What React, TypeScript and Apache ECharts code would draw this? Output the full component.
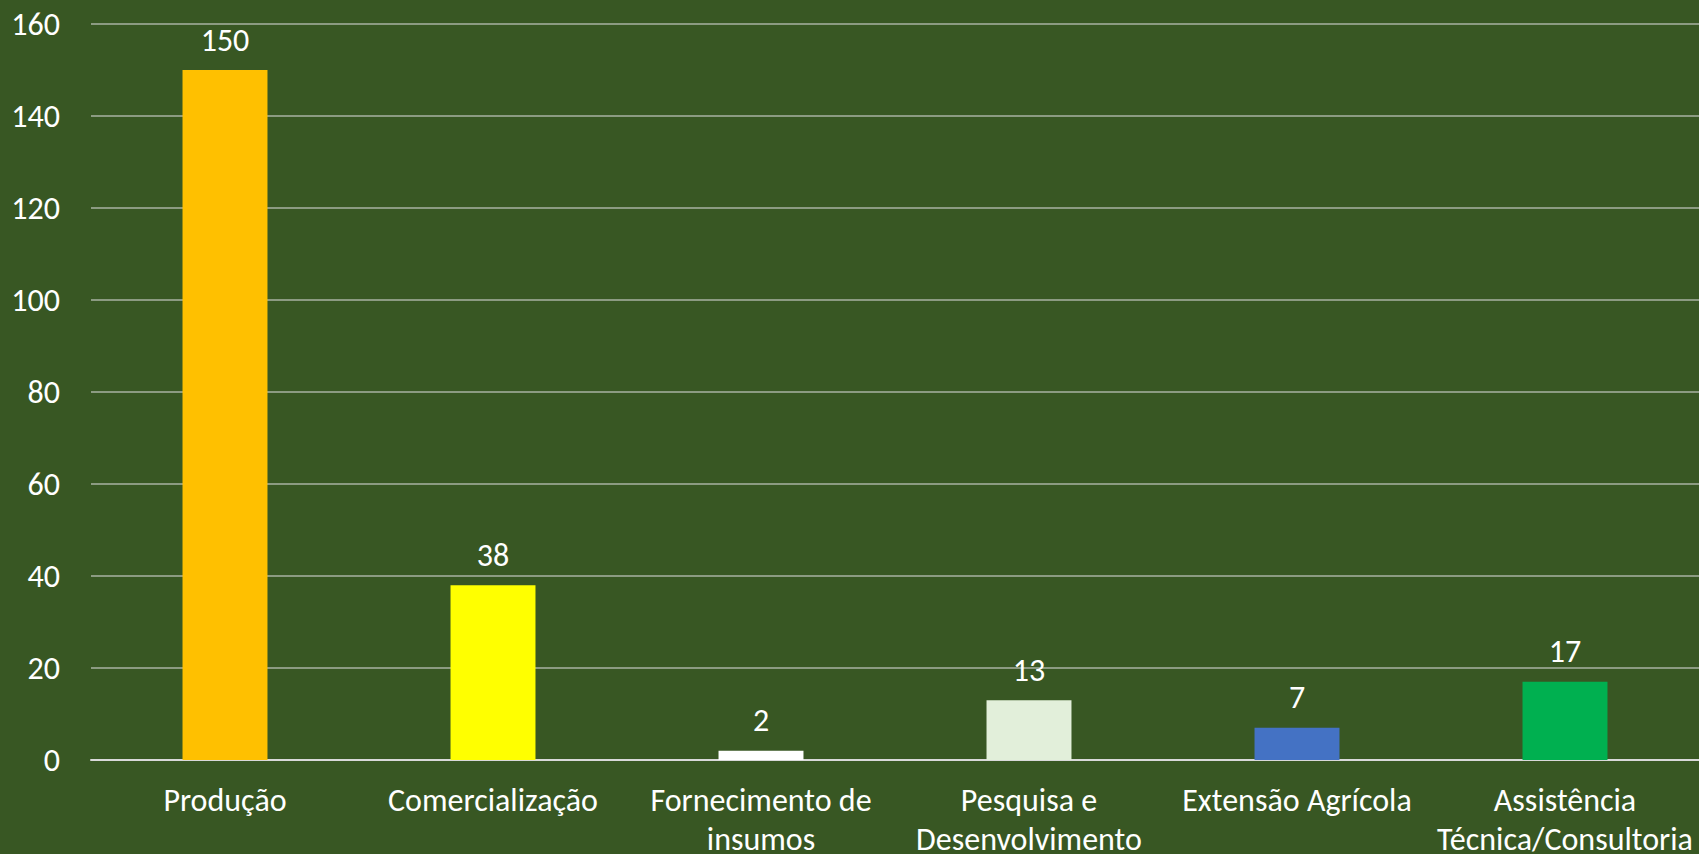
import React, { useEffect, useRef } from "react";
import * as echarts from "echarts";

const categories = [
  "Produção",
  "Comercialização",
  "Fornecimento de insumos",
  "Pesquisa e Desenvolvimento",
  "Extensão Agrícola",
  "Assistência Técnica/Consultoria",
];
const values = [150, 38, 2, 13, 7, 17];
const barColors = ["#FFC000", "#FFFF00", "#FFFFFF", "#E2EFDA", "#4472C4", "#00B050"];
const yMin = 0;
const yMax = 160;
const yStep = 20;

const FONT = "Carlito, Calibri, 'Open Sans', sans-serif";
const FONT_SIZE = 32;
const LABEL_MAX_WIDTH = 262;

function wrapAtSpaces(text: string): string {
  const canvas = document.createElement("canvas");
  const ctx = canvas.getContext("2d");
  if (!ctx) return text;
  ctx.font = `${FONT_SIZE}px ${FONT}`;
  const words = text.split(" ");
  const lines: string[] = [];
  let cur = "";
  for (const w of words) {
    const test = cur ? cur + " " + w : w;
    if (cur && ctx.measureText(test).width > LABEL_MAX_WIDTH) {
      lines.push(cur);
      cur = w;
    } else {
      cur = test;
    }
  }
  if (cur) lines.push(cur);
  return lines.join("\n");
}

export default function App() {
  const ref = useRef<HTMLDivElement>(null);
  useEffect(() => {
    if (!ref.current) return;
    const chart = echarts.init(ref.current, null, { renderer: "svg" });
    chart.setOption({
      animation: false,
      backgroundColor: "#385723",
      grid: { left: 91, right: 0, top: 24, bottom: 94, containLabel: false, outerBoundsMode: "none" },
      xAxis: {
        type: "category",
        data: categories,
        axisTick: { show: false },
        axisLine: { show: true, lineStyle: { color: "#d9d9d9", width: 2 } },
        axisLabel: {
          interval: 0,
          hideOverlap: false,
          color: "#ffffff",
          fontFamily: FONT,
          fontSize: FONT_SIZE,
          lineHeight: 39,
          margin: 21,
          formatter: (v: string) => wrapAtSpaces(v),
        },
      },
      yAxis: {
        type: "value",
        min: yMin,
        max: yMax,
        interval: yStep,
        axisLine: { show: false },
        axisTick: { show: false },
        axisLabel: {
          color: "#ffffff",
          fontFamily: FONT,
          fontSize: FONT_SIZE,
          margin: 31,
        },
        splitLine: { lineStyle: { color: "rgba(217,217,217,0.7)", width: 1.5 } },
      },
      series: [
        {
          type: "bar",
          barWidth: "31.7%",
          data: values.map((v, i) => ({ value: v, itemStyle: { color: barColors[i] } })),
          label: {
            show: true,
            position: "top",
            distance: 14,
            color: "#ffffff",
            fontFamily: FONT,
            fontSize: FONT_SIZE,
            lineHeight: FONT_SIZE,
          },
        },
      ],
    });
    return () => chart.dispose();
  }, []);
  return (
    <div
      ref={ref}
      style={{ position: "fixed", left: 0, top: 0, width: 1699, height: 854, background: "#385723" }}
    />
  );
}
